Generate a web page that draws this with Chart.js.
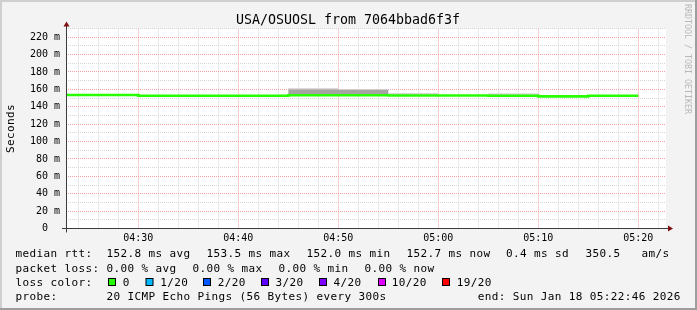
<!DOCTYPE html>
<html><head><meta charset="utf-8">
<script src="https://cdn.jsdelivr.net/npm/chart.js@4.4.1/dist/chart.umd.min.js"></script>
<style>html,body{margin:0;padding:0;background:#f3f3f3;}#wrap{width:697px;height:310px;position:relative;}</style>
</head><body><div id="wrap"><canvas id="c" width="697" height="310"></canvas></div>
<script>
// ---------- data ----------
const chartTitle = 'USA/OSUOSL from 7064bbad6f3f';
const yAxisTitle = 'Seconds';
const watermark = 'RRDTOOL / TOBI OETIKER';
const timeRange = ['04:22:46', '05:22:46'];
const stepStarts = ['04:20','04:25','04:30','04:35','04:40','04:45','04:50','04:55','05:00','05:05','05:10','05:15'];
const stepEnd = '05:20';
const medianRtt = [153.5, 153.5, 152.6, 152.6, 152.6, 153.3, 153.3, 153.0, 153.0, 152.6, 152.0, 152.7];
const smokeDarkLow  = [null, null, null, null, null, 153.0, 153.0, null, null, null, null, null];
const smokeDarkHigh = [null, null, null, null, null, 159.8, 159.2, null, null, null, null, null];
const smokeLightLow  = [null, null, null, null, null, 159.8, 159.2, 152.8, null, 152.6, null, null];
const smokeLightHigh = [null, null, null, null, null, 161.2, 160.2, 155.6, null, 155.3, null, null];
const yMinorStep = 10, yMajorStep = 20, yMax = 230;
const xMinorStepMin = 2, xMajorStepMin = 10;
const rttLegend = ['median rtt:', '152.8 ms avg', '153.5 ms max', '152.0 ms min', '152.7 ms now', '0.4 ms sd', '350.5', 'am/s'];
const lossLegend = ['packet loss:', '0.00 % avg', '0.00 % max', '0.00 % min', '0.00 % now'];
const lossTitle = 'loss color:';
const lossLabels = ['0', '1/20', '2/20', '3/20', '4/20', '10/20', '19/20'];
const lossColors = ['#26ff00', '#00b8ff', '#0059ff', '#5e00ff', '#7e00ff', '#dd00ff', '#ff0000'];
const probeLegend = ['probe:', '20 ICMP Echo Pings (56 Bytes) every 300s', 'end: Sun Jan 18 05:22:46 2026'];

// ---------- helpers ----------
function toSec(s){ const p = s.split(':').map(Number); return p[0]*3600 + p[1]*60 + (p[2]||0); }
function fmtHM(v){ const h = Math.floor(v/3600), m = Math.floor((v%3600)/60); return String(h).padStart(2,'0')+':'+String(m).padStart(2,'0'); }
const xMin = toSec(timeRange[0]), xMax = toSec(timeRange[1]);
const xTickVals = [];
for (let t = Math.ceil(xMin/(xMinorStepMin*60))*xMinorStepMin*60; t <= xMax; t += xMinorStepMin*60) xTickVals.push(t);
const yTickVals = [];
for (let v = 0; v <= yMax; v += yMinorStep) yTickVals.push(v);

function stepPts(vals){
  const pts = stepStarts.map((t,i)=>({x: toSec(t), y: vals[i]}));
  pts.push({x: toSec(stepEnd), y: vals[vals.length-1]});
  return pts;
}
// where a smoke layer is absent, its band collapses to zero height on the median
const bandLow  = (lo) => lo.map((v,i)=> v == null ? medianRtt[i] : v);
const bandHigh = (lo, hi) => hi.map((v,i)=> v == null ? (lo[i] == null ? medianRtt[i] : lo[i]) : v);

const MONO = '"DejaVu Sans Mono", monospace';

const framePlugin = {
  id: 'frame',
  beforeDraw(chart){
    const {ctx, chartArea: a} = chart;
    const W = chart.width, H = chart.height;
    ctx.save();
    ctx.fillStyle = '#f3f3f3'; ctx.fillRect(0,0,W,H);
    ctx.fillStyle = '#cfcfcf'; ctx.fillRect(0,0,W,2); ctx.fillRect(0,0,2,H);
    ctx.fillStyle = '#9e9e9e'; ctx.fillRect(0,H-2,W,2); ctx.fillRect(W-2,0,2,H);
    ctx.fillStyle = '#ffffff'; ctx.fillRect(a.left, a.top, a.right-a.left, a.bottom-a.top);
    ctx.restore();
  },
  afterDraw(chart){
    const {ctx, chartArea: a} = chart;
    ctx.save();
    const x0 = Math.round(a.left) + 0.5;
    const yb = a.bottom;
    ctx.strokeStyle = '#3c3c3c'; ctx.lineWidth = 1;
    ctx.beginPath();
    ctx.moveTo(a.left - 4, yb); ctx.lineTo(a.right + 4, yb);
    ctx.moveTo(x0, yb + 4); ctx.lineTo(x0, a.top - 4);
    ctx.stroke();
    ctx.fillStyle = '#7f1010';
    ctx.beginPath();
    ctx.moveTo(a.right + 2, yb - 3); ctx.lineTo(a.right + 2, yb + 3); ctx.lineTo(a.right + 7, yb); ctx.closePath(); ctx.fill();
    ctx.beginPath();
    ctx.moveTo(x0 - 3, a.top - 2); ctx.lineTo(x0 + 3, a.top - 2); ctx.lineTo(x0, a.top - 7); ctx.closePath(); ctx.fill();

    // title
    ctx.fillStyle = '#000';
    ctx.font = '13.3px ' + MONO;
    ctx.textAlign = 'center'; ctx.textBaseline = 'alphabetic';
    ctx.fillText(chartTitle, 348, 24);

    // y axis title
    ctx.save();
    ctx.translate(14, (a.top + a.bottom)/2);
    ctx.rotate(-Math.PI/2);
    ctx.font = '11px ' + MONO;
    if ('letterSpacing' in ctx) ctx.letterSpacing = '0.38px';
    ctx.fillText(yAxisTitle, 0, 0);
    ctx.restore();

    // watermark
    ctx.save();
    ctx.translate(685, 4);
    ctx.rotate(Math.PI/2);
    ctx.font = '8.3px ' + MONO;
    ctx.fillStyle = '#b8b8b8';
    ctx.textAlign = 'left';
    ctx.fillText(watermark, 0, 0);
    ctx.restore();

    // legend
    ctx.font = '11px ' + MONO;
    if ('letterSpacing' in ctx) ctx.letterSpacing = '0.38px';
    ctx.textAlign = 'left'; ctx.fillStyle = '#000';
    const r1 = 257.3, r2 = 271.7, r3 = 285.7, r4 = 300;
    const rttX = [15.5, 106.5, 206.5, 306.5, 406.5, 506, 585.5, 641.5];
    rttLegend.forEach((t,i)=>ctx.fillText(t, rttX[i], r1));
    const lossX = [15.5, 106.5, 192.5, 278.5, 364.5];
    lossLegend.forEach((t,i)=>ctx.fillText(t, lossX[i], r2));
    ctx.fillText(lossTitle, 15.5, r3);
    const boxX = [108, 145.5, 203, 261, 319, 378, 442];
    const labX = [122.8, 160.2, 217.8, 275.5, 333.5, 391.8, 456.8];
    lossLabels.forEach((t,i)=>{
      ctx.fillStyle = lossColors[i];
      ctx.fillRect(boxX[i] + 0.5, 278.5, 7, 7);
      ctx.strokeStyle = '#000'; ctx.lineWidth = 1;
      ctx.strokeRect(boxX[i] + 0.5, 278.5, 7, 7);
      ctx.fillStyle = '#000';
      ctx.fillText(t, labX[i], r3);
    });
    const probeX = [15.5, 106.5, 477.8];
    probeLegend.forEach((t,i)=>ctx.fillText(t, probeX[i], r4));
    ctx.restore();
  }
};

const hidden = { borderColor: 'rgba(0,0,0,0)', borderWidth: 1, pointRadius: 0, stepped: true };
const chart = new Chart(document.getElementById('c'), {
  type: 'line',
  data: {
    datasets: [
      { label: 'median rtt', data: stepPts(medianRtt), stepped: true, borderColor: lossColors[0], borderWidth: 2.6,
        pointRadius: 0, fill: false, order: 0 },
      Object.assign({ label: 'smoke light low', data: stepPts(bandLow(smokeLightLow)), fill: false, order: 5 }, hidden),
      Object.assign({ label: 'smoke light', data: stepPts(bandHigh(smokeLightLow, smokeLightHigh)), fill: '-1',
        backgroundColor: '#cdcdcd', order: 4 }, hidden),
      Object.assign({ label: 'smoke dark low', data: stepPts(bandLow(smokeDarkLow)), fill: false, order: 3 }, hidden),
      Object.assign({ label: 'smoke dark', data: stepPts(bandHigh(smokeDarkLow, smokeDarkHigh)), fill: '-1',
        backgroundColor: '#a4a4a4', order: 2 }, hidden)
    ]
  },
  options: {
    responsive: false, animation: false, devicePixelRatio: 1,
    layout: { padding: { left: 0, right: 31, top: 28.5, bottom: 0 } },
    plugins: { legend: { display: false }, tooltip: { enabled: false }, title: { display: false } },
    scales: {
      x: {
        type: 'linear', min: xMin, max: xMax, offset: false,
        afterBuildTicks: s => { s.ticks = xTickVals.map(v => ({ value: v })); },
        afterFit: s => { s.height = 81.5; },
        grid: { color: c => (c.tick && c.tick.value % (xMajorStepMin*60) === 0) ? '#f4a0a0' : '#d6d6d6',
                drawTicks: false, lineWidth: 1, offset: false },
        border: { display: false, dash: [1, 1] },
        ticks: { autoSkip: false, maxRotation: 0, minRotation: 0, padding: 4, color: '#000',
                 font: { family: MONO, size: 10 },
                 callback: v => (v % (xMajorStepMin*60) === 0) ? fmtHM(v) : '' }
      },
      y: {
        type: 'linear', min: 0, max: yMax,
        afterBuildTicks: s => { s.ticks = yTickVals.map(v => ({ value: v })); },
        afterFit: s => { s.width = 66; },
        grid: { color: c => (c.tick && c.tick.value % yMajorStep === 0) ? '#f4a0a0' : '#d6d6d6',
                drawTicks: false, lineWidth: 1 },
        border: { display: false, dash: [1, 1] },
        ticks: { autoSkip: false, padding: 6, color: '#000', font: { family: MONO, size: 10 },
                 callback: v => (v % yMajorStep !== 0 || v > 220) ? '' : (v === 0 ? '0  ' : v + ' m') }
      }
    }
  },
  plugins: [framePlugin]
});
</script></body></html>
